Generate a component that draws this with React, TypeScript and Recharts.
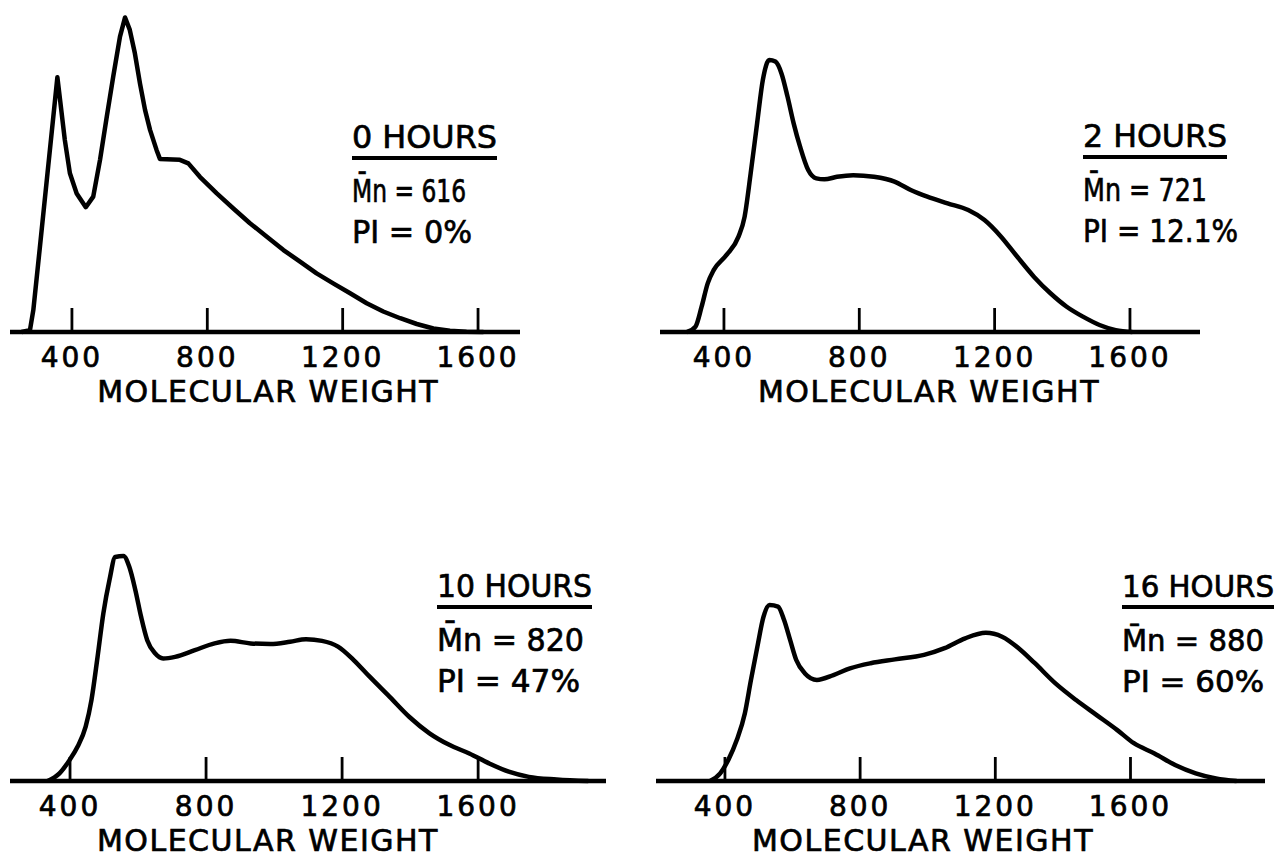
import { LineChart, Line, XAxis, YAxis } from "recharts";

// x ticks shared by all four panels
const mwTicks = [400, 800, 1200, 1600];

// 0 hours
const mw0 = [251, 276, 286, 305, 330, 357, 365, 379, 394, 414, 441, 463, 483, 503, 522, 542, 557, 571, 586, 601, 616, 631, 650, 660, 719, 744, 778, 828, 877, 926, 976, 1025, 1074, 1123, 1172, 1222, 1271, 1320, 1370, 1419, 1468, 1517, 1566, 1616];
const resp0 = [0, 0.6, 6.9, 26.2, 51.9, 79.6, 72.5, 60, 49.6, 43.3, 39, 42.3, 53.8, 67.3, 79.8, 92.3, 98.3, 94.4, 87.1, 77.7, 69.4, 63.1, 56.9, 54.1, 53.8, 52.7, 48.5, 43.3, 38.6, 34, 29.8, 25.6, 22, 18.3, 15.2, 12.1, 9, 6.4, 4.3, 2.5, 1.1, 0.4, 0.1, 0];

// 2 hours
const mw2 = [291, 316, 334, 352, 370, 407, 443, 461, 479, 498, 515, 534, 552, 570, 588, 606, 625, 649, 673, 697, 734, 782, 843, 904, 952, 1001, 1061, 1122, 1170, 1219, 1267, 1316, 1365, 1413, 1461, 1510, 1558, 1607];
const resp2 = [0, 1.7, 7.9, 15.2, 19.4, 24, 29.8, 36, 49.6, 65.2, 78.8, 85, 84.5, 80.8, 73.5, 65.2, 57.9, 50.6, 48, 47.7, 48.5, 49, 48.5, 47, 44.4, 42.3, 40.2, 38.1, 35, 29.8, 23.5, 17.3, 12.1, 7.9, 4.8, 2.2, 0.6, 0];

// 10 hours
const mw10 = [334, 369, 399, 422, 446, 463, 481, 498, 516, 533, 557, 574, 592, 609, 627, 650, 674, 709, 767, 825, 872, 931, 989, 1047, 1094, 1141, 1188, 1234, 1281, 1340, 1398, 1457, 1515, 1574, 1632, 1690, 1749, 1831, 1924];
const resp10 = [0, 2.4, 6.6, 10.7, 17, 25.3, 38.8, 52.4, 62.8, 70, 70.3, 67, 59.7, 51.3, 44, 39.9, 38.3, 38.8, 40.9, 43, 43.8, 43, 42.8, 43.5, 44.3, 43.8, 42, 37.8, 32.6, 26.3, 20, 14.9, 11.3, 8.6, 5.5, 2.9, 1.3, 0.5, 0];

// 16 hours
const mw16 = [356, 386, 410, 435, 459, 477, 496, 514, 532, 557, 575, 593, 611, 636, 672, 721, 770, 831, 903, 989, 1050, 1111, 1172, 1220, 1269, 1317, 1378, 1439, 1500, 1561, 1610, 1671, 1732, 1793, 1853, 1914];
const resp16 = [0, 2.4, 6.6, 12.8, 21.2, 31.6, 42, 51.3, 55, 54.5, 50.3, 44, 37.8, 33.7, 31.6, 33.1, 35.2, 36.8, 38, 39.4, 41.5, 44.6, 46.3, 45.1, 41.5, 36.8, 30.5, 25.3, 20.6, 15.9, 11.8, 8.6, 5, 2.4, 0.8, 0];

const hoursLabels = ["0 HOURS", "2 HOURS", "10 HOURS", "16 HOURS"];
const mnValues = ["616", "721", "820", "880"];
const piValues = ["0%", "12.1%", "47%", "60%"];

const FONT = "'DejaVu Sans', Verdana, sans-serif";
const PLOT_H = 320;
const INK = "#000";

// layout of each panel on the page
const layout = [
  { left: 0, top: 0, axisL: 10, axisR: 520, domain: [217, 1724], axisH: 80, titleAt: 980, curve: "linear", note: { x: 352, y: 148, fs: 32, w: [145, 114, 120] } },
  { left: 640, top: 0, axisL: 660, axisR: 1200, domain: [211, 1807], axisH: 80, titleAt: 1006, curve: "monotone", note: { x: 1083, y: 147, fs: 32, w: [144, 124, 155] } },
  { left: 0, top: 449, axisL: 10, axisR: 606, domain: [223.5, 1976], axisH: 77, titleAt: 982, curve: "monotone", note: { x: 437, y: 597, fs: 32, w: [155, 147, 143] } },
  { left: 640, top: 449, axisL: 656, axisR: 1265, domain: [196, 1998], axisH: 77, titleAt: 986, curve: "monotone", note: { x: 1122, y: 597, fs: 30, w: [152, 142, 142] } },
];

const series = [
  { mw: mw0, resp: resp0 },
  { mw: mw2, resp: resp2 },
  { mw: mw10, resp: resp10 },
  { mw: mw16, resp: resp16 },
];

function MwTick({ x, y, payload }: any) {
  return (
    <g>
      <line x1={x} x2={x} y1={y} y2={y - 24} stroke={INK} strokeWidth={2.8} />
      <text x={x} y={y + 35} textAnchor="middle" fontFamily={FONT} fontSize={28} letterSpacing={3} fill={INK} stroke={INK} strokeWidth={0.7}>
        {payload.value}
      </text>
    </g>
  );
}

function Panel({ idx }: { idx: number }) {
  const l = layout[idx];
  const s = series[idx];
  const data = s.mw.map((m, i) => ({ mw: m, resp: s.resp[i] }));
  const width = 640;
  const margin = { top: 12, left: l.axisL - l.left, right: l.left + width - l.axisR, bottom: 0 };
  const height = margin.top + PLOT_H + l.axisH;
  const [lo, hi] = l.domain;

  const title = (props: any) => {
    const vb = props.viewBox;
    const cx = vb.x + ((l.titleAt - lo) / (hi - lo)) * vb.width;
    return (
      <text x={cx} y={vb.y + 70} textAnchor="middle" fontFamily={FONT} fontSize={30} letterSpacing={1.5} fill={INK} stroke={INK} strokeWidth={0.7}>
        MOLECULAR WEIGHT
      </text>
    );
  };

  return (
    <div style={{ position: "absolute", left: l.left, top: l.top }}>
      <LineChart width={width} height={height} data={data} margin={margin}>
        <XAxis
          type="number"
          dataKey="mw"
          domain={l.domain}
          ticks={mwTicks}
          allowDataOverflow
          axisLine={{ stroke: INK, strokeWidth: 4.5 }}
          tickLine={false}
          tickSize={0}
          tickMargin={0}
          tick={<MwTick />}
          height={l.axisH}
          interval={0}
          label={title}
        />
        <YAxis hide domain={[0, 100]} type="number" />
        <Line
          type={l.curve as any}
          dataKey="resp"
          stroke={INK}
          strokeWidth={4.5}
          strokeLinejoin="round"
          dot={false}
          isAnimationActive={false}
        />
      </LineChart>
    </div>
  );
}

function Notes() {
  return (
    <svg width={1282} height={858} style={{ position: "absolute", left: 0, top: 0, pointerEvents: "none" }}>
      {layout.map((l, i) => {
        const n = l.note;
        return (
          <g key={i} fontFamily={FONT} fontSize={n.fs} fill={INK} stroke={INK} strokeWidth={0.7}>
            <text x={n.x} y={n.y} textLength={n.w[0]} lengthAdjust="spacingAndGlyphs">
              {hoursLabels[i]}
            </text>
            <line x1={n.x} x2={n.x + n.w[0]} y1={n.y + 10} y2={n.y + 10} stroke={INK} strokeWidth={4} />
            <text x={n.x} y={n.y + 54} textLength={n.w[1]} lengthAdjust="spacingAndGlyphs">
              {"M\u0304n = " + mnValues[i]}
            </text>
            <text x={n.x} y={n.y + 95} textLength={n.w[2]} lengthAdjust="spacingAndGlyphs">
              {"PI = " + piValues[i]}
            </text>
          </g>
        );
      })}
    </svg>
  );
}

export default function App() {
  return (
    <div style={{ position: "absolute", left: 0, top: 0, width: 1282, height: 858, overflow: "hidden", background: "#fff" }}>
      {layout.map((_, i) => (
        <Panel key={i} idx={i} />
      ))}
      <Notes />
    </div>
  );
}
